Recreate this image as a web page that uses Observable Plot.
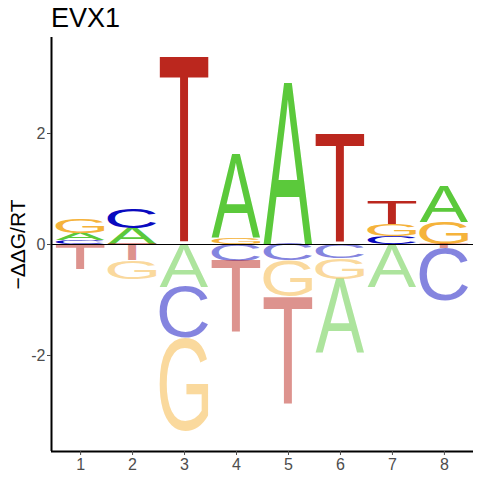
<!DOCTYPE html>
<html><head><meta charset="utf-8">
<script src="https://cdn.jsdelivr.net/npm/d3@7"></script>
<script src="https://cdn.jsdelivr.net/npm/@observablehq/plot@0.6"></script>
<style>
body{margin:0;background:#fff;font-family:"Liberation Sans",Arial,sans-serif;}
#title{height:37px;line-height:37px;font-size:27px;padding-left:51px;color:#000;white-space:nowrap;}
#chart svg{display:block;}
</style></head>
<body>
<div id="title">EVX1</div>
<div id="chart"></div>
<script>
const positions = [1, 2, 3, 4, 5, 6, 7, 8];
const letters = ["A", "C", "G", "T"];
const valA = [0.13, 0.29, -0.77, 1.50, 2.90, -1.33, -0.77, 0.65];
const valC = [0.07, 0.36, -0.92, -0.31, -0.30, -0.25, 0.15, -0.95];
const valG = [0.25, -0.33, -1.69, 0.12, -0.65, -0.38, 0.20, 0.39];
const valT = [-0.45, -0.30, 3.38, -1.30, -1.94, 1.96, 0.41, -0.08];
const yTicks = [-2, 0, 2];
const yLabel = "\u2212\u0394\u0394G/RT";
const letterColors = {A: "#5BC93B", C: "#0A0ABF", G: "#F5B33B", T: "#BB271E"};

const seriesByLetter = {A: valA, C: valC, G: valG, T: valT};

// build stacked table
const table = [];
positions.forEach((p, i) => {
  const entries = letters.map(L => ({letter: L, v: seriesByLetter[L][i]}));
  const pos = entries.filter(e => e.v > 0).sort((a, b) => a.v - b.v);
  const neg = entries.filter(e => e.v < 0).sort((a, b) => b.v - a.v);
  let acc = 0;
  for (const e of pos) { table.push({pos: p, letter: e.letter, y1: acc, y2: acc + e.v, positive: true}); acc += e.v; }
  acc = 0;
  for (const e of neg) { table.push({pos: p, letter: e.letter, y1: acc, y2: acc + e.v, positive: false}); acc += e.v; }
});

// glyph ink metrics
const FONT = "Liberation Sans";
const ctx = document.createElement("canvas").getContext("2d");
ctx.font = `100px "${FONT}"`;
const metrics = {};
for (const L of letters) {
  const m = ctx.measureText(L);
  metrics[L] = {l: m.actualBoundingBoxLeft, r: m.actualBoundingBoxRight, a: m.actualBoundingBoxAscent, d: m.actualBoundingBoxDescent};
}

const halfW = 0.47;

const chart = Plot.plot({
  width: 480,
  height: 443,
  marginTop: 0,
  marginBottom: 29,
  marginLeft: 51,
  marginRight: 7,
  style: {fontFamily: FONT, fontSize: "16px", background: "#fff"},
  x: {domain: [0.44, 8.56]},
  y: {domain: [-3.73, 3.73]},
  marks: [
    Plot.rect(table, {
      x1: d => d.pos - halfW, x2: d => d.pos + halfW, y1: "y1", y2: "y2",
      fill: "none",
      render(index, scales, values) {
        const g = d3.create("svg:g");
        for (const i of index) {
          const d = table[i];
          const xa = Math.min(values.x1[i], values.x2[i]);
          const xb = Math.max(values.x1[i], values.x2[i]);
          const ya = Math.min(values.y1[i], values.y2[i]);
          const yb = Math.max(values.y1[i], values.y2[i]);
          const m = metrics[d.letter];
          const sx = (xb - xa) / (m.l + m.r);
          const sy = (yb - ya) / (m.a + m.d);
          g.append("text")
            .attr("font-family", FONT)
            .attr("font-size", 100)
            .attr("text-anchor", "start")
            .attr("fill", letterColors[d.letter])
            .attr("fill-opacity", d.positive ? 1 : 0.5)
            .attr("transform", `translate(${xa},${ya}) scale(${sx},${sy}) translate(${m.l},${m.a})`)
            .text(d.letter);
        }
        return g.node();
      }
    }),
    Plot.ruleY([0], {stroke: "#000", strokeWidth: 1}),
    Plot.ruleX([0.44], {stroke: "#000", strokeWidth: 2}),
    Plot.ruleY([-3.73], {stroke: "#000", strokeWidth: 2}),
    Plot.axisY({ticks: yTicks, tickSize: 4, tickPadding: 2, label: null, fontSize: 16, color: "#4D4D4D", tickFormat: d => d < 0 ? "-" + Math.abs(d) : String(d)}),
    Plot.axisX({ticks: positions, tickSize: 4, tickPadding: 3, label: null, fontSize: 16, color: "#4D4D4D"}),
    Plot.text([yLabel], {frameAnchor: "left", textAnchor: "middle", rotate: -90, dx: -33, fontSize: 21, fill: "#000", text: d => d})
  ]
});
document.getElementById("chart").appendChild(chart);
</script>
</body></html>
